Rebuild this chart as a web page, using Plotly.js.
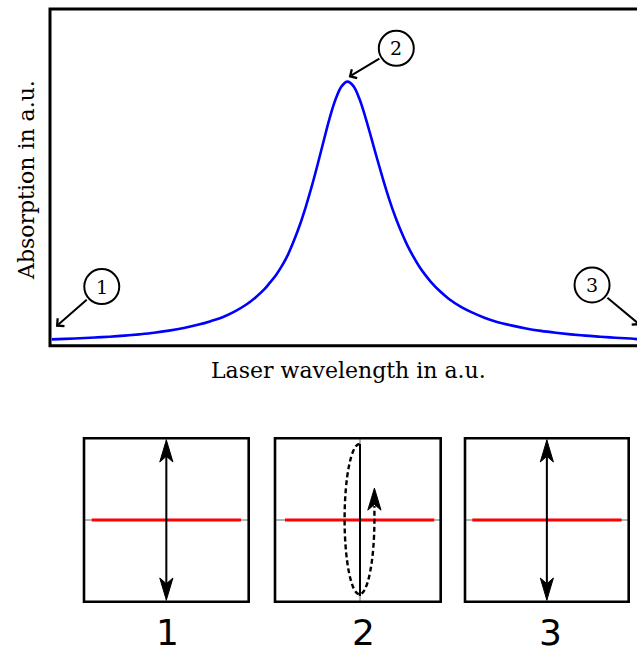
<!DOCTYPE html>
<html>
<head>
<meta charset="utf-8">
<script src="https://cdn.plot.ly/plotly-3.0.1.min.js"></script>
<style>
  html, body { margin: 0; padding: 0; overflow: hidden; background: #fff; }
  #chart { width: 660px; height: 652px; }
</style>
</head>
<body>
<div id="chart"></div>
<script>
// Absorption line profile, both axes in arbitrary units
const wavelength = [0.003, 0.025, 0.05, 0.075, 0.10, 0.125, 0.15, 0.175, 0.20, 0.225, 0.25,
                    0.27, 0.29, 0.31, 0.33, 0.345, 0.36, 0.37, 0.38, 0.39, 0.40, 0.41, 0.42,
                    0.43, 0.44, 0.45, 0.46, 0.47, 0.48, 0.49, 0.50,
                    0.51, 0.52, 0.53, 0.54, 0.55, 0.56, 0.57, 0.58, 0.59, 0.60, 0.61, 0.62,
                    0.63, 0.64, 0.655, 0.67, 0.69, 0.71, 0.73, 0.75, 0.775, 0.80, 0.825,
                    0.85, 0.875, 0.90, 0.925, 0.95, 0.975, 0.987];
const absorption = [0.024, 0.026, 0.028, 0.031, 0.034, 0.038, 0.043, 0.049, 0.057, 0.067, 0.080,
                    0.093, 0.108, 0.129, 0.156, 0.182, 0.213, 0.240, 0.268, 0.303, 0.345, 0.398,
                    0.458, 0.527, 0.604, 0.688, 0.776, 0.862, 0.933, 0.982, 1.000,
                    0.983, 0.935, 0.866, 0.787, 0.706, 0.628, 0.555, 0.490, 0.433, 0.383, 0.340,
                    0.302, 0.270, 0.242, 0.207, 0.178, 0.148, 0.125, 0.106, 0.091, 0.077, 0.065,
                    0.056, 0.049, 0.043, 0.038, 0.034, 0.030, 0.027, 0.025];

// Marked points on the profile (tip of each arrow) and their numbered labels
const pointLabels = ['1', '2', '3'];
const pointX = [0.010, 0.502, 0.992];
const pointY = [0.072, 1.017, 0.078];
const labelX = [0.087, 0.582, 0.911];
const labelY = [0.224, 1.126, 0.230];

// Field state in the three panels (panel units, -1..1)
const panelNames = ['1', '2', '3'];
const fieldAmplitude = [0.98, 0.93, 0.98];
const fieldOffset = [0.0, 0.026, 0.0];
const traceStart = [-0.906, -0.879, -0.911];
const traceEnd = [0.906, 0.923, 0.914];

const W = 660, H = 652;
const fx = p => p / W;
const fy = p => 1 - p / H;

const serif = 'DejaVu Serif, serif';
const sans = 'DejaVu Sans, sans-serif';

const hiddenAxis = {
  showgrid: false, zeroline: false, showticklabels: false, ticks: '',
  showline: false, fixedrange: true
};

const layout = {
  width: W, height: H,
  margin: { l: 0, r: 0, t: 0, b: 0 },
  paper_bgcolor: '#fff', plot_bgcolor: 'rgba(0,0,0,0)',
  showlegend: false,
  xaxis: Object.assign({}, hiddenAxis, { domain: [fx(50), fx(645)], range: [0, 1], anchor: 'y' }),
  yaxis: Object.assign({}, hiddenAxis, { domain: [fy(345.7), fy(9)], range: [0, 1.275], anchor: 'x' }),
  shapes: [],
  annotations: []
};

// Panel boxes below the profile
const boxLeft = [84, 275, 465];
const boxRight = [248.7, 440.7, 628.7];
const boxTop = 438.3, boxBottom = 601.7;

const traces = [{
  x: wavelength, y: absorption, xaxis: 'x', yaxis: 'y',
  mode: 'lines', hoverinfo: 'skip',
  line: { color: '#0000ff', width: 2.6, shape: 'spline', smoothing: 1 }
}];

// Frame around the profile
layout.shapes.push({
  type: 'rect', xref: 'x domain', yref: 'y domain', x0: 0, x1: 1, y0: 0, y1: 1,
  line: { color: '#000', width: 3 }
});

// Numbered circles with arrows pointing at the profile
pointLabels.forEach((lab, i) => {
  layout.shapes.push({
    type: 'circle', xref: 'x', yref: 'y', xsizemode: 'pixel', ysizemode: 'pixel',
    xanchor: labelX[i], yanchor: labelY[i], x0: -17.5, x1: 17.5, y0: -17.5, y1: 17.5,
    line: { color: '#000', width: 2 }
  });
  layout.annotations.push({
    xref: 'x', yref: 'y', x: labelX[i], y: labelY[i], text: lab, showarrow: false,
    xanchor: 'center', yanchor: 'middle', font: { family: serif, size: 19, color: '#000' }
  });
  layout.annotations.push({
    xref: 'x', yref: 'y', x: pointX[i], y: pointY[i],
    axref: 'x', ayref: 'y', ax: labelX[i], ay: labelY[i],
    text: '', showarrow: true, arrowhead: 4, arrowsize: 1, arrowwidth: 2,
    arrowcolor: '#000', startstandoff: 18, standoff: 0
  });
});

// Axis titles
layout.annotations.push({
  xref: 'paper', yref: 'paper', x: fx(348.5), y: fy(370), text: 'Laser wavelength in a.u.',
  showarrow: false, xanchor: 'center', yanchor: 'middle',
  font: { family: serif, size: 22, color: '#000' }
});
layout.annotations.push({
  xref: 'paper', yref: 'paper', x: fx(27), y: fy(180), text: 'Absorption in a.u.',
  showarrow: false, xanchor: 'center', yanchor: 'middle', textangle: -90,
  font: { family: serif, size: 22, color: '#000' }
});

// Filled stealth-style arrowhead in panel units
function head(xr, yr, xc, tip, dir) {
  const len = 0.27, notch = 0.2, hw = 0.08;
  const b = tip - dir * len, n = tip - dir * notch;
  return {
    type: 'path', xref: xr, yref: yr, layer: 'above',
    path: `M${xc},${tip} L${xc - hw},${b} L${xc},${n} L${xc + hw},${b} Z`,
    fillcolor: '#000', line: { color: '#000', width: 1 }
  };
}

panelNames.forEach((name, i) => {
  const k = i + 2;
  const xr = 'x' + k, yr = 'y' + k;
  layout['xaxis' + k] = Object.assign({}, hiddenAxis, {
    domain: [fx(boxLeft[i]), fx(boxRight[i])], range: [-1, 1], anchor: 'y' + k
  });
  layout['yaxis' + k] = Object.assign({}, hiddenAxis, {
    domain: [fy(boxBottom), fy(boxTop)], range: [-1, 1], anchor: 'x' + k
  });

  // thin crosshair through the box
  layout.shapes.push({
    type: 'line', xref: xr, yref: yr, x0: -1, x1: 1, y0: 0, y1: 0, layer: 'below',
    line: { color: '#666', width: 1 }
  });
  layout.shapes.push({
    type: 'line', xref: xr, yref: yr, x0: fieldOffset[i], x1: fieldOffset[i], y0: -1, y1: 1,
    layer: 'below', line: { color: '#666', width: 1 }
  });
  // box frame
  layout.shapes.push({
    type: 'rect', xref: xr + ' domain', yref: yr + ' domain', x0: 0, x1: 1, y0: 0, y1: 1,
    line: { color: '#000', width: 2.6 }
  });

  // red reference line
  traces.push({
    x: [traceStart[i], traceEnd[i]], y: [0, 0], xaxis: xr, yaxis: yr,
    mode: 'lines', hoverinfo: 'skip', line: { color: '#ff0000', width: 3 }
  });

  const a = fieldAmplitude[i], c = fieldOffset[i];
  if (i === 1) {
    // solid field line with the dashed rotation path around it
    traces.push({
      x: [c, c], y: [-a, a], xaxis: xr, yaxis: yr,
      mode: 'lines', hoverinfo: 'skip', line: { color: '#000', width: 2 }
    });
    const cx = 0.02, ea = 0.18, cy = 0.01, eb = 0.92, q = 0.5523;
    const top = cy + eb, bot = cy - eb;
    layout.shapes.push({
      type: 'path', xref: xr, yref: yr,
      path: `M${cx},${top} C${cx - q * ea},${top} ${cx - ea},${cy + q * eb} ${cx - ea},${cy} ` +
            `C${cx - ea},${cy - q * eb} ${cx - q * ea},${bot} ${cx},${bot} ` +
            `C${cx + q * ea},${bot} ${cx + ea},${cy - q * eb} ${cx + ea},${cy} L${cx + ea},0.17`,
      line: { color: '#000', width: 2.4, dash: '5px,3px' }
    });
    layout.shapes.push(head(xr, yr, cx + ea, 0.39, 1));
  } else {
    traces.push({
      x: [c, c], y: [-a + 0.2, a - 0.2], xaxis: xr, yaxis: yr,
      mode: 'lines', hoverinfo: 'skip', line: { color: '#000', width: 2 }
    });
    layout.shapes.push(head(xr, yr, c, a, 1));
    layout.shapes.push(head(xr, yr, c, -a, -1));
  }
});

// Panel numbers
const numberX = [167.5, 363, 550.7];
panelNames.forEach((name, i) => {
  layout.annotations.push({
    xref: 'paper', yref: 'paper', x: fx(numberX[i]), y: fy(632), text: name,
    showarrow: false, xanchor: 'center', yanchor: 'middle',
    font: { family: sans, size: 36, color: '#000' }
  });
});

Plotly.newPlot('chart', traces, layout, { staticPlot: true, displayModeBar: false });
</script>
</body>
</html>
